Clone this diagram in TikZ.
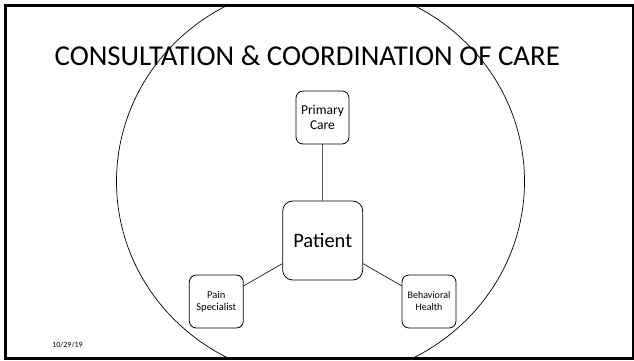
\documentclass[tikz,border=0pt]{standalone}
\usepackage{fontspec}
\setmainfont{Carlito}
\usetikzlibrary{positioning}

\begin{document}
\begin{tikzpicture}[x=1pt, y=-1pt,
  carebox/.style={draw, thick, rounded corners=7pt, minimum width=53pt, minimum height=53pt, align=center, inner sep=1pt},
  link/.style={draw, semithick}]
\useasboundingbox (0,0) rectangle (634,360);
% Frame
\draw [line width=2.4pt] (5.5,5.5) rectangle (633,358.5);
% Circle
\begin{scope}
\clip (6.5,6.5) rectangle (632,357.5);
\draw [line width=0.7pt] (320.5,181.5) ellipse [x radius=204, y radius=198];
\end{scope}
% Title
\node [anchor=base west, inner sep=0pt, font=\fontsize{28.8}{30}\selectfont] (title) at (54.5,65) {CONSULTATION \& COORDINATION OF CARE};
% Boxes
\node [carebox, minimum width=80pt, minimum height=79pt, rounded corners=10pt, font=\fontsize{20.5}{22}\selectfont] (patient) at (322.7,240.5) {Patient};
\node [carebox, font=\fontsize{13.5}{15.5}\selectfont] (primary) at (322.5,117.5) {Primary\\Care};
\node [carebox, minimum width=54pt, font=\fontsize{10.5}{11.5}\selectfont] (pain) at (216.3,301.5) {Pain\\Specialist};
\node [carebox, minimum width=54pt, font=\fontsize{10}{12}\selectfont] (behavioral) at (429,301.5) {Behavioral\\Health};
% Links
\draw [link] (patient) -- (primary);
\draw [link] (patient) -- (pain);
\draw [link] (patient) -- (behavioral);
% Date
\node [anchor=base west, inner sep=0pt, font=\fontsize{8}{9}\selectfont] (date) at (52,347) {10/29/19};
\end{tikzpicture}
\end{document}
